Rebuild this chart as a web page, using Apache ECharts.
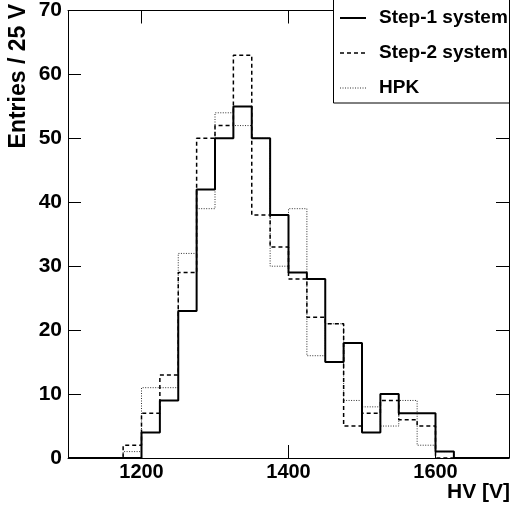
<!DOCTYPE html>
<html>
<head>
<meta charset="utf-8">
<script src="https://cdn.jsdelivr.net/npm/echarts@6/dist/echarts.min.js"></script>
<style>
html,body{margin:0;padding:0;background:#fff;}
#chart{width:517px;height:507px;}
</style>
</head>
<body>
<div id="chart"></div>
<script>
// Lower edges of 25 V bins
var binEdges = [1100,1125,1150,1175,1200,1225,1250,1275,1300,1325,1350,1375,1400,1425,1450,1475,1500,1525,1550,1575,1600,1625,1650,1675];
var lastEdge = 1700;
var step1 = [0,0,0,0,4,9,23,42,50,55,50,38,29,28,15,18,4,10,7,7,1,0,0,0];
var step2 = [0,0,0,2,7,13,29,50,52,63,38,33,28,22,21,5,7,9,6,5,0,0,0,0];
var hpk   = [0,0,0,1,11,11,32,39,54,52,50,30,39,16,21,9,8,5,9,2,1,0,0,0];
var xTicks = [1200,1400,1600];
var seriesNames = ['Step-1 system','Step-2 system','HPK'];
var xTitle = 'HV [V]';
var yTitle = 'Entries / 25 V';

function hist(vals){
  var d = binEdges.map(function(e,i){return [e, vals[i]];});
  d.push([lastEdge, vals[vals.length-1]]);
  return d;
}
var FONT = 'Liberation Sans';
var lineStyles = [
  {stroke:'#000', lineWidth:2},
  {stroke:'#000', lineWidth:1.5, lineDash:[4,3]},
  {stroke:'#333', lineWidth:1, lineDash:[1,1.5]}
];
var chart = echarts.init(document.getElementById('chart'));
var tickStyle = {show:true, inside:true, length:13, lineStyle:{color:'#000', width:1}};
var legendGraphics = [
  {type:'rect', z:50, shape:{x:333.5, y:-1, width:176, height:104}, style:{fill:'#fff', stroke:'#000', lineWidth:1}, silent:true}
];
seriesNames.forEach(function(n,i){
  var cy = 18 + i*35;
  legendGraphics.push({type:'line', z:51, shape:{x1:340, y1:cy, x2:366, y2:cy}, style:lineStyles[i]});
  legendGraphics.push({type:'text', z:51, x:379, y:cy, style:{text:n, fill:'#000', font:'bold 19px "Liberation Sans"', textAlign:'left', textVerticalAlign:'middle'}});
});
var option = {
  animation:false,
  backgroundColor:'#fff',
  grid:{left:68, right:8, top:10, bottom:49},
  xAxis:[{
    type:'value', min:1100, max:1700, position:'bottom',
    axisLine:{show:true, onZero:false, lineStyle:{color:'#000', width:1}},
    axisTick:Object.assign({customValues:xTicks}, tickStyle),
    axisLabel:{customValues:xTicks, formatter:function(v){return String(v);}, color:'#000', fontFamily:FONT, fontWeight:'bold', fontSize:20, margin:4},
    splitLine:{show:false}
  },{
    type:'value', min:1100, max:1700, position:'top',
    axisLine:{show:true, onZero:false, lineStyle:{color:'#000', width:1}},
    axisTick:Object.assign({customValues:xTicks}, tickStyle),
    axisLabel:{show:false},
    splitLine:{show:false}
  }],
  yAxis:[{
    type:'value', min:0, max:70, interval:10, position:'left',
    axisLine:{show:true, lineStyle:{color:'#000', width:1}},
    axisTick:tickStyle,
    axisLabel:{color:'#000', fontFamily:FONT, fontWeight:'bold', fontSize:21, margin:6},
    splitLine:{show:false}
  },{
    type:'value', min:0, max:70, interval:10, position:'right',
    axisLine:{show:true, lineStyle:{color:'#000', width:1}},
    axisTick:tickStyle,
    axisLabel:{show:false},
    splitLine:{show:false}
  }],
  graphic:legendGraphics.concat([
    {type:'text', x:19, y:4, rotation:Math.PI/2, style:{text:yTitle, fill:'#000', font:'bold 23px "Liberation Sans"', textAlign:'right', textVerticalAlign:'middle'}},
    {type:'text', x:510, y:492, style:{text:xTitle, fill:'#000', font:'bold 21px "Liberation Sans"', textAlign:'right', textVerticalAlign:'middle'}}
  ]),
  series:[
    {name:seriesNames[0], type:'line', step:'end', symbol:'none', data:hist(step1), z:5,
     lineStyle:{color:'#000', width:2, type:'solid'}, itemStyle:{color:'#000'}},
    {name:seriesNames[1], type:'line', step:'end', symbol:'none', data:hist(step2), z:4,
     lineStyle:{color:'#000', width:1.5, type:[4,3]}, itemStyle:{color:'#000'}},
    {name:seriesNames[2], type:'line', step:'end', symbol:'none', data:hist(hpk), z:3,
     lineStyle:{color:'#333', width:1, type:[1,1.5]}, itemStyle:{color:'#333'}}
  ]
};
chart.setOption(option);
</script>
</body>
</html>
